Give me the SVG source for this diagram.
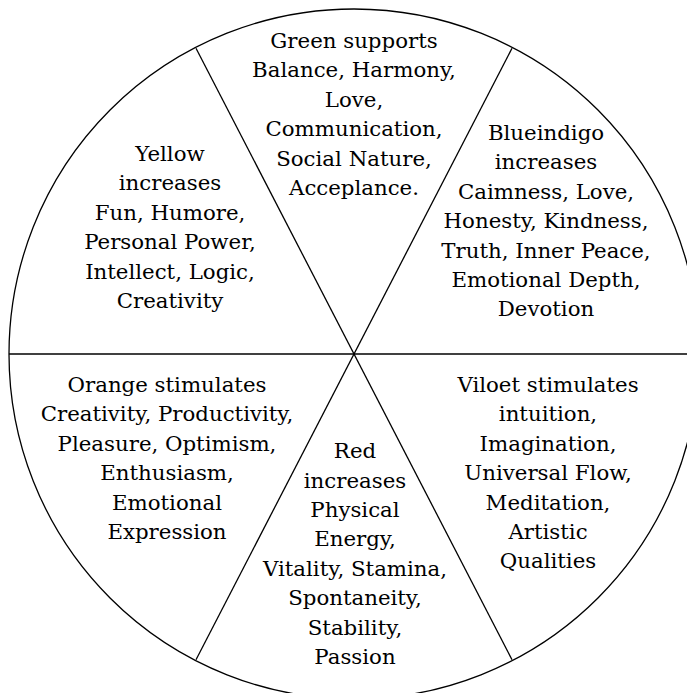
<svg xmlns="http://www.w3.org/2000/svg" width="687" height="693" viewBox="0 0 687 693">
<style>
.ln{fill:none;stroke:#000;stroke-width:1.3}
.t{font-family:'DejaVu Serif','Liberation Serif',serif;font-size:21.3px;fill:#000;text-anchor:middle}
</style>
<rect width="687" height="693" fill="#fff"/>
<g id="wheel">
<circle class="ln" cx="354" cy="354" r="345"/>
</g>
<g id="connectors">
<line class="ln" x1="9" y1="354" x2="699" y2="354"/>
<line class="ln" x1="196" y1="48.3" x2="512" y2="659.7"/>
<line class="ln" x1="512" y1="48.3" x2="196" y2="659.7"/>
</g>
<g id="green">
<text class="t" x="354" y="48">Green supports</text>
<text class="t" x="354" y="77.4">Balance, Harmony,</text>
<text class="t" x="354" y="106.8">Love,</text>
<text class="t" x="354" y="136.2">Communication,</text>
<text class="t" x="354" y="165.6">Social Nature,</text>
<text class="t" x="354" y="195">Acceplance.</text>
</g>
<g id="blueindigo">
<text class="t" x="546" y="140">Blueindigo</text>
<text class="t" x="546" y="169.4">increases</text>
<text class="t" x="546" y="198.8">Caimness, Love,</text>
<text class="t" x="546" y="228.2">Honesty, Kindness,</text>
<text class="t" x="546" y="257.6">Truth, Inner Peace,</text>
<text class="t" x="546" y="287">Emotional Depth,</text>
<text class="t" x="546" y="316.4">Devotion</text>
</g>
<g id="yellow">
<text class="t" x="170" y="161">Yellow</text>
<text class="t" x="170" y="190.4">increases</text>
<text class="t" x="170" y="219.8">Fun, Humore,</text>
<text class="t" x="170" y="249.2">Personal Power,</text>
<text class="t" x="170" y="278.6">Intellect, Logic,</text>
<text class="t" x="170" y="308">Creativity</text>
</g>
<g id="orange">
<text class="t" x="167" y="392">Orange stimulates</text>
<text class="t" x="167" y="421.4">Creativity, Productivity,</text>
<text class="t" x="167" y="450.8">Pleasure, Optimism,</text>
<text class="t" x="167" y="480.2">Enthusiasm,</text>
<text class="t" x="167" y="509.6">Emotional</text>
<text class="t" x="167" y="539">Expression</text>
</g>
<g id="viloet">
<text class="t" x="548" y="392">Viloet stimulates</text>
<text class="t" x="548" y="421.4">intuition,</text>
<text class="t" x="548" y="450.8">Imagination,</text>
<text class="t" x="548" y="480.2">Universal Flow,</text>
<text class="t" x="548" y="509.6">Meditation,</text>
<text class="t" x="548" y="539">Artistic</text>
<text class="t" x="548" y="568.4">Qualities</text>
</g>
<g id="red">
<text class="t" x="355" y="458.2">Red</text>
<text class="t" x="355" y="487.6">increases</text>
<text class="t" x="355" y="517">Physical</text>
<text class="t" x="355" y="546.4">Energy,</text>
<text class="t" x="355" y="575.8">Vitality, Stamina,</text>
<text class="t" x="355" y="605.2">Spontaneity,</text>
<text class="t" x="355" y="634.6">Stability,</text>
<text class="t" x="355" y="664">Passion</text>
</g>
</svg>
